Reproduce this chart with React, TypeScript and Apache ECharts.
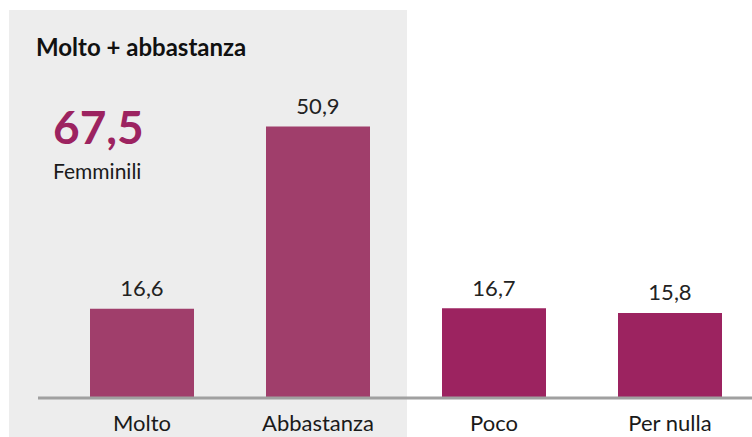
import React, { useEffect, useRef } from "react";
import * as echarts from "echarts";

const categories = ["Molto", "Abbastanza", "Poco", "Per nulla"];
const values = [16.6, 50.9, 16.7, 15.8];
const barColors = ["#a03e6b", "#a03e6b", "#9c2360", "#9c2360"];
const titleText = "Molto + abbastanza";
const subLabel = "Femminili";

const fmt = (v: number) => v.toFixed(1).replace(".", ",");

export default function App() {
  const ref = useRef<HTMLDivElement>(null);
  useEffect(() => {
    document.body.style.margin = "0";
    const chart = echarts.init(ref.current!, null, { renderer: "svg" });
    const total = values[0] + values[1];
    const font = "Lato, 'Open Sans', sans-serif";
    chart.setOption({
      animation: false,
      backgroundColor: "#ffffff",
      grid: { left: 54, right: 2, top: 78, bottom: 40, containLabel: false },
      xAxis: {
        type: "category",
        data: categories,
        axisLine: { show: false },
        axisTick: { show: false },
        axisLabel: { color: "#1a1a1a", fontSize: 22, fontFamily: font, margin: 14 },
      },
      yAxis: { type: "value", min: 0, max: 60, show: false, splitLine: { show: false } },
      graphic: [
        { type: "rect", z: -10, shape: { x: 9, y: 10, width: 398, height: 430 }, style: { fill: "#ededed" } },
        { type: "line", z: 10, shape: { x1: 38, y1: 398, x2: 760, y2: 398 }, style: { stroke: "#a0a0a0", lineWidth: 3 } },
        { type: "text", left: 36, top: 34, style: { text: titleText, font: `bold 24px ${font}`, fill: "#111" } },
        { type: "text", left: 53, top: 103, style: { text: fmt(total), font: `bold 46px ${font}`, fill: "#9c2360" } },
        { type: "text", left: 53, top: 160, style: { text: subLabel, font: `21px ${font}`, fill: "#1a1a1a" } },
      ],
      series: [
        {
          type: "bar",
          barWidth: 104,
          data: values.map((v, i) => ({ value: v, itemStyle: { color: barColors[i] } })),
          label: {
            show: true,
            position: "top",
            distance: 10,
            color: "#222",
            fontSize: 22,
            fontFamily: font,
            formatter: (p: any) => fmt(p.value),
          },
        },
      ],
    });
    return () => chart.dispose();
  }, []);
  return (
    <div style={{ width: 752, height: 437, overflow: "hidden" }}>
      <div ref={ref} style={{ width: 760, height: 437 }} />
    </div>
  );
}
